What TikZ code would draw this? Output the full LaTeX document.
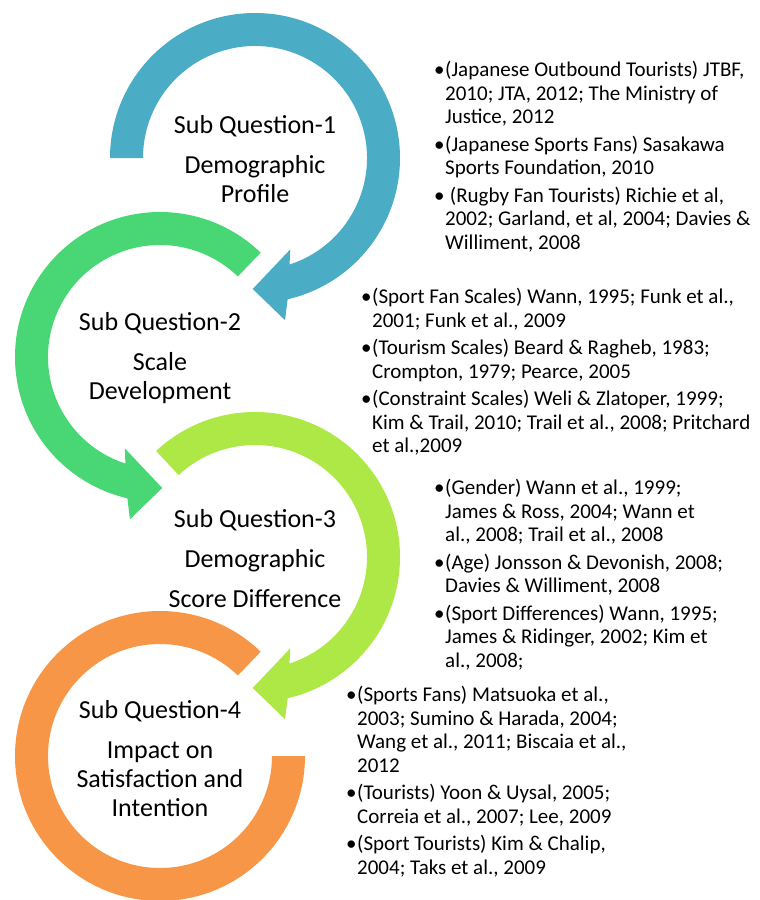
\documentclass[tikz,border=0pt]{standalone}
\usepackage{fontspec}
\setmainfont{Carlito}
\usetikzlibrary{positioning}

\definecolor{sqblue}{HTML}{4BACC6}
\definecolor{sqgreen}{HTML}{48D774}
\definecolor{sqlime}{HTML}{ADE847}
\definecolor{sqorange}{HTML}{F79646}

\tikzset{
  qtext/.style={align=center, inner sep=0pt, font=\fontsize{26}{29}\selectfont},
  refs/.style={anchor=north west, inner sep=0pt, font=\fontsize{21}{23.5}\selectfont},
}

% circular arrow, clockwise from #1 down to the head at the bottom
\newcommand{\cwarrow}[2]{%
  \fill[#2] (#1:145) arc[start angle=#1, end angle=-77, radius=145]
    -- (-79.5:165) -- (-91:131) -- (-69:98) -- (-72:112)
    arc[start angle=-72, end angle=#1, radius=112] -- cycle;}
\newcommand{\bl}{\makebox[11pt][l]{\textbullet}}

\begin{document}
\begin{tikzpicture}[x=1pt,y=1pt]
    \useasboundingbox (0,0) rectangle (760,-900);

    % arrows
    \begin{scope}[shift={(255,-158)}]
        \cwarrow{180}{sqblue}
    \end{scope}
    \begin{scope}[shift={(160,-357)},xscale=-1]
        \cwarrow{134}{sqgreen}
    \end{scope}
    \begin{scope}[shift={(255,-557)}]
        \cwarrow{133}{sqlime}
    \end{scope}
    \fill[sqorange] (160,-756) ++(46:145) arc[start angle=46, end angle=360, radius=145]
        -- ++(-33,0) arc[start angle=360, end angle=46, radius=112] -- cycle;

    % questions
    \node[qtext] (q1) at (255,-159) {Sub Question-1\\[11pt]Demographic\\Profile};
    \node[qtext] (q2) at (160,-358) {Sub Question-2\\[11pt]Scale\\Development};
    \node[qtext] (q3) at (255,-559) {Sub Question-3\\[11pt]Demographic\\[11pt]Score Difference};
    \node[qtext] (q4) at (160,-759) {Sub Question-4\\[11pt]Impact on\\Satisfaction and\\Intention};

    % references
    \node[refs] (r1) at (434,-60) {\begin{tabular}{@{}l@{}l@{}}
        \bl & (Japanese Outbound Tourists) JTBF,\\
            & 2010; JTA, 2012; The Ministry of\\
            & Justice, 2012\\[4pt]
        \bl & (Japanese Sports Fans) Sasakawa\\
            & Sports Foundation, 2010\\[4pt]
        \bl & \ (Rugby Fan Tourists) Richie et al,\\
            & 2002; Garland, et al, 2004; Davies \&\\
            & Williment, 2008
    \end{tabular}};
    \node[refs] (r2) at (361,-287) {\begin{tabular}{@{}l@{}l@{}}
        \bl & (Sport Fan Scales) Wann, 1995; Funk et al.,\\
            & 2001; Funk et al., 2009\\[4pt]
        \bl & (Tourism Scales) Beard \& Ragheb, 1983;\\
            & Crompton, 1979; Pearce, 2005\\[4pt]
        \bl & (Constraint Scales) Weli \& Zlatoper, 1999;\\
            & Kim \& Trail, 2010; Trail et al., 2008; Pritchard\\
            & et al.,2009
    \end{tabular}};
    \node[refs] (r3) at (434,-478) {\begin{tabular}{@{}l@{}l@{}}
        \bl & (Gender) Wann et al., 1999;\\
            & James \& Ross, 2004; Wann et\\
            & al., 2008; Trail et al., 2008\\[4pt]
        \bl & (Age) Jonsson \& Devonish, 2008;\\
            & Davies \& Williment, 2008\\[4pt]
        \bl & (Sport Differences) Wann, 1995;\\
            & James \& Ridinger, 2002; Kim et\\
            & al., 2008;
    \end{tabular}};
    \node[refs] (r4) at (346,-685) {\begin{tabular}{@{}l@{}l@{}}
        \bl & (Sports Fans) Matsuoka et al.,\\
            & 2003; Sumino \& Harada, 2004;\\
            & Wang et al., 2011; Biscaia et al.,\\
            & 2012\\[4pt]
        \bl & (Tourists) Yoon \& Uysal, 2005;\\
            & Correia et al., 2007; Lee, 2009\\[4pt]
        \bl & (Sport Tourists) Kim \& Chalip,\\
            & 2004; Taks et al., 2009
    \end{tabular}};
\end{tikzpicture}
\end{document}
